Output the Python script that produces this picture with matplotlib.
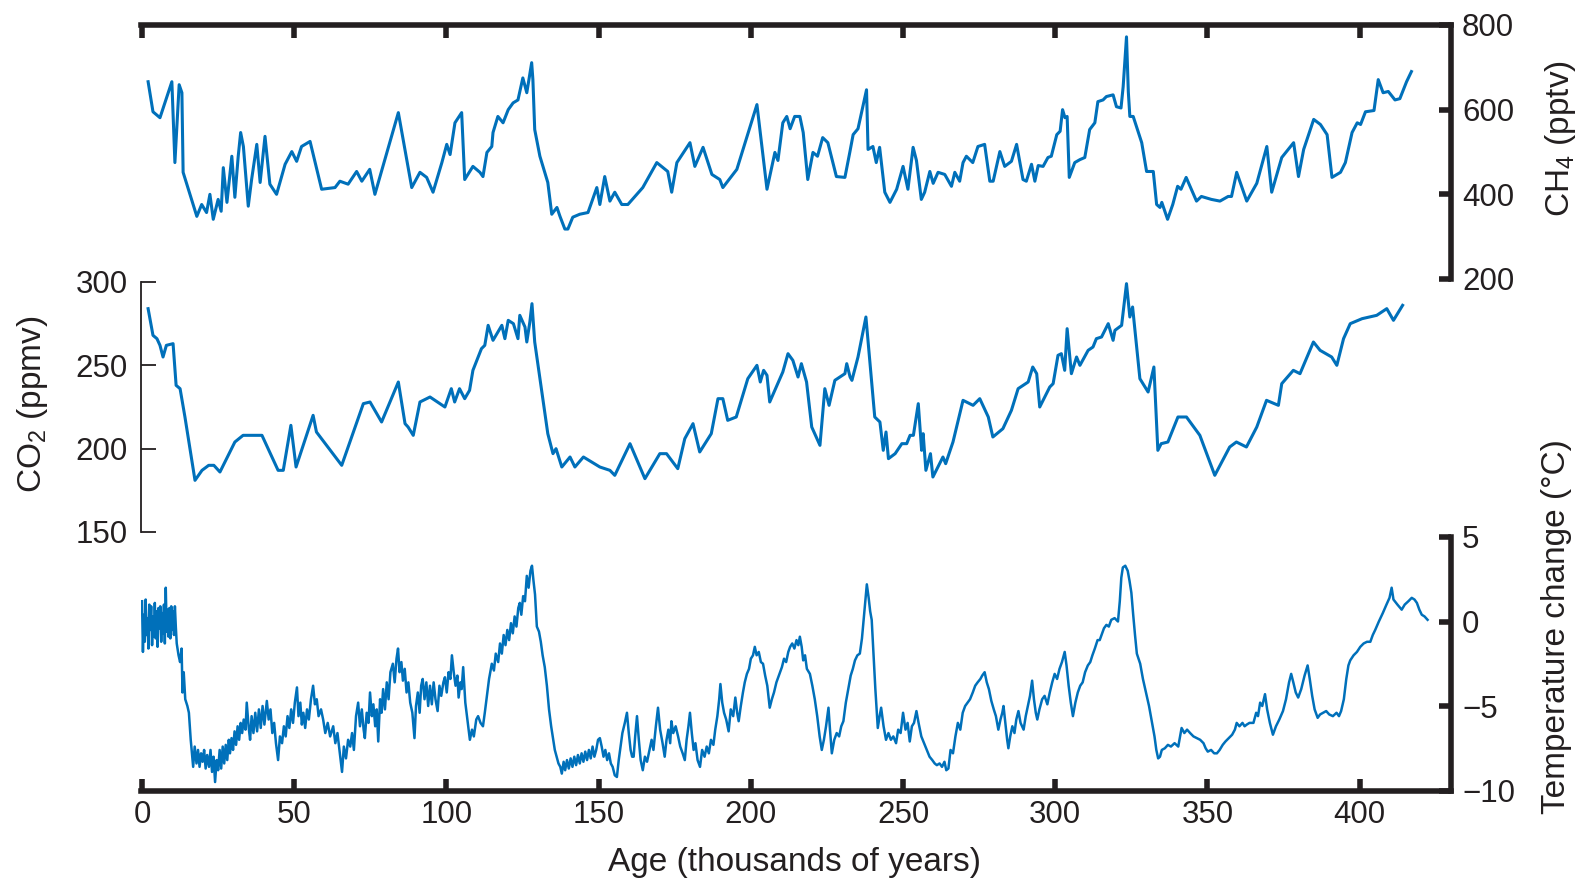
import matplotlib
matplotlib.use("Agg")
import matplotlib.pyplot as plt

plt.rcParams["font.family"] = ["Liberation Sans", "DejaVu Sans"]
plt.rcParams["mathtext.fontset"] = "custom"
plt.rcParams["mathtext.rm"] = "Liberation Sans"
plt.rcParams["mathtext.it"] = "Liberation Sans:italic"

# ---- data (age in thousands of years) ----
ch4_age = [2.0, 3.6, 5.9, 9.8, 10.8, 12.2, 13.1, 13.5, 18.0, 19.6, 21.2, 22.3, 23.4, 25.0, 26.0, 26.7,
           27.9, 29.5, 30.5, 31.6, 32.4, 33.3, 34.9, 36.0, 37.7, 38.8, 40.4, 42.0, 44.2, 47.0, 49.2,
           50.8, 52.4, 55.2, 59.0, 63.4, 65.0, 67.7, 70.5, 72.2, 74.8, 76.5, 84.2, 88.6, 91.3, 93.5,
           95.6, 98.5, 100.1, 101.2, 102.8, 105.0, 106.0, 108.7, 111.0, 112.0, 113.3, 114.9, 115.3,
           116.9, 118.6, 120.3, 121.9, 123.5, 125.1, 126.4, 128.0, 128.4, 129.0, 130.7, 133.3, 134.6,
           136.3, 137.3, 138.9, 139.9, 141.5, 143.8, 146.5, 149.4, 150.4, 152.0, 153.7, 155.3, 157.6,
           159.6, 164.5, 169.1, 172.7, 174.0, 175.7, 180.0, 181.6, 184.3, 187.2, 189.8, 190.8, 195.4,
           202.0, 205.3, 206.9, 207.9, 208.9, 210.5, 211.8, 212.9, 214.4, 216.1, 217.2, 218.7, 220.4,
           221.9, 223.6, 225.3, 228.1, 230.9, 232.5, 233.6, 235.2, 238.0, 238.5, 240.1, 241.2, 242.3,
           244.0, 245.7, 247.9, 250.0, 251.6, 253.3, 254.4, 256.0, 257.1, 258.8, 259.9, 261.5, 263.7,
           265.9, 267.0, 268.6, 269.7, 270.8, 272.9, 274.6, 276.8, 278.5, 279.6, 281.8, 283.4, 285.6,
           287.3, 289.4, 290.5, 292.2, 293.3, 294.4, 296.0, 297.6, 298.7, 300.5, 301.6, 302.4, 303.2,
           303.9, 304.6, 306.4, 308.1, 309.7, 311.3, 313.0, 314.0, 315.7, 316.8, 319.0, 320.1, 321.6,
           322.3, 323.4, 324.0, 324.5, 325.6, 328.4, 330.0, 332.2, 333.3, 334.4, 335.0, 336.9, 338.6,
           340.2, 341.3, 343.0, 346.4, 348.0, 351.3, 354.1, 356.8, 357.9, 359.6, 362.9, 366.2, 369.5,
           371.1, 374.4, 378.3, 379.9, 381.6, 384.9, 387.1, 389.3, 390.9, 393.7, 395.3, 397.5, 399.2,
           400.3, 401.9, 404.7, 406.1, 407.7, 409.4, 411.6, 413.2, 415.4, 417.0]
ch4 = [666, 595, 581, 666, 475, 659, 640, 452, 348, 376, 357, 400, 341, 388, 360, 463,
       381, 490, 393, 490, 546, 513, 372, 435, 518, 428, 537, 424, 400, 471, 501,
       478, 513, 525, 412, 416, 431, 424, 454, 431, 459, 400, 593, 416, 452, 440,
       405, 475, 518, 494, 569, 593, 435, 466, 452, 442, 499, 513, 546,
       584, 569, 600, 616, 623, 675, 640, 711, 671, 553, 490, 428, 353,
       369, 348, 318, 318, 346, 353, 357, 416, 376, 442, 384, 405, 376,
       376, 416, 475, 454, 405, 475, 522, 466, 511, 447, 435, 416, 459,
       612, 412, 466, 499, 480, 569, 584, 555, 584, 584, 546, 435, 499,
       490, 534, 522, 442, 440, 499, 541, 555, 647, 506, 513, 475, 511,
       405, 381, 412, 466, 412, 511, 480, 388, 405, 454, 426, 452, 447,
       419, 452, 431, 475, 490, 475, 513, 518, 431, 431, 501, 466, 478,
       518, 435, 431, 471, 431, 468, 466, 487, 490, 541, 549, 600, 581,
       584, 440, 475, 482, 487, 553, 569, 619, 623, 631, 635, 607, 604,
       654, 772, 642, 584, 584, 522, 454, 454, 376, 369, 381, 341, 376,
       419, 412, 440, 384, 395, 388, 384, 395, 395, 452, 384, 426, 513,
       405, 487, 522, 442, 506, 577, 565, 541, 440, 452, 475, 546, 569,
       565, 595, 598, 671, 640, 643, 623, 626, 666, 690]

co2_age = [2.0, 3.6, 4.9, 5.9, 6.9, 8.0, 10.2, 11.2, 12.5, 14.1, 17.4, 19.7, 21.9, 23.6, 25.6, 30.5,
           33.2, 39.4, 44.7, 46.4, 48.9, 50.6, 56.2, 57.3, 65.6, 72.7, 74.9, 78.7, 84.2, 86.4, 87.4,
           89.1, 91.3, 94.6, 99.5, 101.6, 102.7, 104.3, 106.0, 107.6, 108.7, 111.5, 112.6, 113.7,
           115.3, 118.2, 119.2, 120.3, 122.0, 123.5, 124.1, 125.8, 126.4, 127.4, 128.1, 129.0, 133.3,
           135.0, 136.0, 137.9, 140.6, 142.2, 145.0, 150.4, 153.7, 155.3, 160.3, 165.2, 170.1, 172.3,
           176.0, 178.3, 181.0, 183.2, 187.0, 189.2, 190.8, 192.4, 195.2, 199.0, 202.0, 203.1, 204.2,
           205.3, 206.2, 210.5, 212.2, 213.8, 215.5, 216.6, 218.3, 220.0, 222.7, 224.3, 225.7, 227.6,
           230.9, 231.5, 232.6, 233.2, 235.2, 237.8, 240.7, 242.4, 243.5, 244.4, 245.2, 247.4, 249.6,
           251.2, 252.3, 253.4, 255.0, 256.1, 256.6, 257.5, 259.0, 259.8, 262.0, 263.1, 264.0, 266.4,
           269.7, 273.0, 275.2, 278.0, 279.5, 282.8, 285.6, 287.8, 291.1, 292.6, 293.9, 294.9, 298.2,
           299.3, 300.9, 302.0, 303.1, 303.9, 305.3, 307.0, 308.1, 310.8, 312.4, 313.5, 315.2, 317.4,
           319.0, 319.6, 321.8, 323.4, 324.5, 325.4, 327.8, 330.5, 332.4, 333.7, 334.8, 337.0, 340.3,
           343.1, 347.5, 352.4, 357.3, 359.5, 362.8, 366.2, 369.4, 373.3, 374.4, 378.2, 380.4, 384.8,
           387.0, 390.8, 392.5, 394.7, 396.9, 400.8, 405.6, 408.9, 411.1, 414.1]
co2 = [284, 268, 266, 262, 255, 262, 263, 238, 236, 219, 181, 187, 190, 190, 186, 204,
       208, 208, 187, 187, 214, 189, 220, 210, 190, 227, 228, 216, 240, 215, 213,
       208, 228, 231, 225, 236, 228, 236, 230, 235, 247, 260, 262, 274,
       265, 274, 266, 277, 275, 266, 280, 273, 264, 276, 287, 264, 209,
       197, 200, 189, 195, 189, 195, 189, 187, 184, 203, 182, 197, 197,
       188, 206, 215, 198, 209, 230, 230, 217, 219, 242, 250, 240, 247,
       244, 228, 246, 257, 253, 243, 251, 240, 213, 202, 236, 226, 241,
       245, 251, 243, 241, 255, 279, 219, 216, 199, 210, 194, 197, 203,
       203, 208, 208, 227, 199, 209, 187, 197, 183, 191, 195, 191, 204,
       229, 226, 230, 219, 207, 212, 223, 236, 240, 249, 245, 225, 237,
       239, 256, 257, 247, 272, 245, 255, 250, 259, 261, 266, 267, 275,
       265, 271, 274, 299, 279, 285, 242, 234, 249, 199, 203, 204, 219,
       219, 208, 184, 201, 204, 201, 213, 229, 226, 239, 247, 245, 264,
       259, 255, 250, 266, 275, 278, 280, 284, 277, 286]

temp_age = [0.0, 0.3, 0.6, 0.9, 1.2, 1.5, 1.8, 2.1, 2.4, 2.7, 3.0, 3.3, 3.6, 3.9, 4.2, 4.5, 4.8, 5.1,
            5.4, 5.7, 6.0, 6.3, 6.6, 6.9, 7.2, 7.5, 7.8, 8.1, 8.4, 8.7, 9.0, 9.3, 9.6, 9.9, 10.2, 10.5,
            10.8, 11.1, 11.4, 12.0, 12.5, 13.0, 13.3, 13.7, 14.2, 14.9, 15.4, 16.0, 16.8, 17.3, 17.9,
            18.4, 18.9, 19.4, 19.9, 20.4, 20.9, 21.4, 22.0, 22.5, 23.0, 23.5, 24.0, 24.5, 25.0, 25.5,
            26.0, 26.5, 27.0, 27.5, 28.0, 28.5, 28.9, 29.4, 29.9, 30.4, 30.9, 31.4, 31.9, 32.4, 32.9,
            33.4, 34.0, 34.4, 35.0, 35.5, 36.0, 36.6, 37.2, 37.8, 38.4, 39.0, 39.6, 40.2, 41.0, 41.6,
            42.2, 42.8, 43.4, 44.0, 44.7, 45.3, 46.0, 46.6, 47.2, 47.8, 48.4, 49.0, 49.6, 50.2, 50.9,
            51.4, 52.0, 52.5, 53.0, 53.6, 54.2, 54.8, 55.5, 56.2, 56.8, 57.4, 58.0, 58.8, 59.5, 60.2,
            61.0, 61.8, 62.8, 63.5, 64.2, 65.0, 65.7, 66.3, 67.0, 67.7, 68.4, 69.0, 69.6, 70.3, 71.0,
            71.6, 72.2, 72.8, 73.2, 73.8, 74.4, 74.9, 75.5, 76.0, 76.6, 77.1, 77.6, 78.2, 78.7, 79.2,
            79.8, 80.4, 81.0, 81.6, 82.4, 83.0, 83.6, 84.1, 84.6, 85.2, 85.7, 86.3, 86.9, 87.5, 88.1,
            88.8, 89.5, 90.0, 90.6, 91.2, 91.7, 92.2, 92.8, 93.4, 94.0, 94.6, 95.2, 95.8, 96.4, 97.1,
            97.7, 98.3, 99.0, 99.5, 100.1, 100.7, 101.3, 101.8, 102.4, 103.0, 103.6, 104.0, 104.6,
            105.0, 105.5, 106.2, 107.0, 107.7, 108.4, 109.0, 109.8, 110.4, 111.2, 112.0, 112.6, 113.3,
            114.0, 114.9, 115.6, 116.2, 117.0, 117.6, 118.2, 118.8, 119.4, 120.0, 120.6, 121.2, 121.8,
            122.4, 123.0, 123.6, 124.1, 124.6, 125.2, 125.8, 126.4, 127.0, 127.6, 128.1, 128.6, 129.1,
            129.7, 130.4, 131.0, 131.6, 132.3, 133.0, 133.7, 134.4, 135.0, 135.6, 136.2, 136.8, 137.4,
            137.9, 138.5, 139.0, 139.6, 140.2, 140.8, 141.4, 142.0, 142.6, 143.2, 143.8, 144.4, 145.0,
            145.6, 146.2, 146.8, 147.4, 148.0, 148.6, 149.2, 149.8, 150.4, 151.0, 151.6, 152.2, 152.8,
            153.4, 154.0, 154.6, 155.3, 156.0, 156.6, 157.2, 157.8, 158.6, 159.3, 159.9, 160.5, 161.0,
            161.5, 162.0, 162.6, 163.2, 163.8, 164.5, 165.2, 165.9, 166.7, 167.4, 168.0, 168.8, 169.5,
            170.2, 171.0, 171.7, 172.3, 172.9, 173.5, 173.9, 174.5, 175.3, 176.1, 176.8, 177.6, 178.3,
            178.9, 179.5, 180.0, 180.6, 181.2, 181.8, 182.5, 183.3, 184.0, 184.8, 185.5, 186.2, 186.9,
            187.7, 188.3, 189.0, 189.6, 190.0, 190.6, 191.2, 191.9, 192.7, 193.4, 194.2, 194.9, 195.5,
            196.0, 196.7, 197.4, 198.0, 198.7, 199.4, 200.0, 200.7, 201.3, 201.9, 202.6, 203.3, 204.0,
            204.7, 205.4, 206.2, 206.9, 207.6, 208.4, 209.2, 210.2, 210.9, 211.6, 212.3, 212.9, 213.6,
            214.3, 215.0, 215.6, 216.1, 216.7, 217.2, 217.8, 218.4, 219.4, 220.2, 221.0, 221.8, 222.6,
            223.3, 224.0, 224.7, 225.5, 226.0, 226.6, 227.4, 228.2, 229.0, 229.7, 230.4, 231.2, 232.0,
            232.8, 233.5, 234.2, 235.0, 235.8, 236.5, 237.3, 238.1, 238.7, 239.2, 239.7, 240.3, 240.9,
            241.7, 242.3, 242.8, 243.6, 244.4, 245.2, 246.0, 246.8, 247.7, 248.4, 249.2, 250.0, 250.8,
            251.5, 252.2, 252.9, 253.6, 254.4, 255.1, 256.0, 256.9, 257.8, 258.7, 259.6, 260.4, 261.1,
            262.0, 262.8, 263.6, 264.2, 264.9, 265.6, 266.4, 267.2, 268.0, 268.8, 269.6, 270.4, 271.2,
            272.0, 272.9, 273.7, 274.5, 275.4, 276.0, 276.8, 277.5, 278.2, 279.0, 279.8, 280.5, 281.3,
            282.0, 282.6, 283.0, 283.6, 284.2, 284.6, 285.2, 285.9, 286.6, 287.2, 287.9, 288.6, 289.6,
            290.3, 291.0, 291.7, 292.4, 293.0, 293.6, 294.1, 294.8, 295.7, 296.5, 297.4, 298.2, 299.0,
            299.8, 300.6, 301.4, 302.2, 303.1, 303.7, 304.4, 305.1, 305.8, 306.6, 307.4, 308.2, 309.0,
            309.8, 310.7, 311.5, 312.2, 313.0, 313.9, 314.6, 315.2, 316.0, 316.8, 317.6, 318.4, 319.5,
            320.6, 321.2, 321.7, 322.2, 323.0, 323.8, 324.4, 325.0, 325.6, 326.2, 326.8, 327.9, 328.8,
            329.8, 330.8, 331.7, 332.6, 333.2, 333.8, 334.4, 335.0, 336.0, 337.0, 338.0, 339.2, 340.4,
            341.0, 341.5, 342.4, 343.3, 344.3, 345.4, 346.5, 347.6, 348.7, 349.4, 350.1, 351.2, 352.2,
            353.1, 354.0, 355.0, 355.9, 357.0, 358.1, 359.0, 359.6, 360.5, 361.5, 362.2, 362.9, 363.8,
            365.1, 366.0, 366.6, 367.3, 368.0, 368.9, 369.6, 370.5, 371.5, 372.5, 373.6, 374.8, 375.8,
            376.8, 377.5, 378.2, 379.0, 379.8, 380.8, 381.9, 382.9, 383.6, 384.4, 385.2, 386.2, 387.0,
            388.0, 389.0, 390.0, 391.2, 392.4, 393.2, 393.9, 394.8, 395.6, 396.3, 396.9, 398.0, 399.1,
            400.2, 401.3, 402.4, 403.5, 404.3, 405.1, 406.3, 407.6, 408.8, 409.8, 410.5, 411.1, 412.4,
            413.8, 414.8, 416.0, 417.1, 418.0, 418.8, 419.6, 420.4, 421.3, 422.3]
temp = [1.2, -1.8, 0.4, -1.2, 1.3, -0.8, 0.2, -1.6, 1.0, -0.5, 0.9, -1.4, 0.3, -0.9, 1.1, -1.0, 0.6, -1.5,
        0.8, -0.4, 0.9, -1.2, 0.5, -0.7, 1.0, -1.3, 2.0, -0.6, 0.7, -0.9, 0.8, -1.0, 0.9, -0.5, 0.6, -0.8,
        0.9, -0.3, -1.3, -2.0, -2.4, -1.6, -4.2, -3.0, -4.6, -5.0, -5.4, -7.0, -8.6, -7.4, -8.4,
        -7.6, -8.6, -7.8, -8.3, -7.6, -8.7, -7.9, -8.6, -7.6, -8.9, -8.0, -9.5, -8.2, -8.8, -7.6,
        -8.7, -7.4, -8.4, -7.3, -8.2, -7.0, -7.8, -6.9, -7.6, -6.5, -7.3, -6.2, -7.0, -6.0, -6.6,
        -5.8, -6.4, -4.8, -6.2, -7.0, -5.6, -6.6, -5.4, -6.5, -5.2, -6.3, -5.0, -6.1, -4.7, -5.8,
        -5.2, -6.6, -6.0, -7.2, -8.2, -6.8, -7.2, -6.2, -6.8, -5.6, -6.3, -5.2, -6.0, -4.8, -3.9,
        -5.6, -4.8, -6.1, -5.4, -6.3, -5.2, -5.8, -4.6, -3.8, -4.9, -4.6, -5.6, -5.2, -5.8, -6.6,
        -6.0, -6.8, -6.2, -7.2, -6.6, -7.8, -8.9, -7.4, -8.1, -7.0, -7.4, -6.6, -7.6, -5.6, -4.8,
        -6.2, -5.2, -6.4, -6.9, -5.4, -6.0, -4.2, -5.6, -4.9, -6.2, -5.2, -7.1, -4.6, -5.4, -4.0,
        -5.2, -3.6, -4.6, -3.0, -2.5, -3.6, -2.2, -1.6, -3.0, -2.4, -3.5, -2.8, -4.2, -3.6, -4.8,
        -5.4, -6.9, -5.0, -4.2, -5.4, -3.8, -3.4, -4.6, -3.6, -5.0, -3.8, -4.9, -3.6, -4.6, -5.3,
        -3.8, -4.4, -3.6, -3.3, -4.2, -3.0, -3.4, -2.0, -3.0, -3.8, -3.2, -4.5, -3.6,
        -4.0, -2.7, -4.8, -6.0, -7.0, -6.4, -6.8, -5.8, -5.6, -6.0, -6.2, -5.4, -4.4,
        -3.4, -2.5, -2.9, -1.9, -2.4, -1.3, -1.9, -0.8, -1.4, -0.5, -1.1, -0.1, -0.7,
        0.3, -0.3, 0.8, 1.1, 0.4, 1.5, 1.2, 2.7, 2.0, 3.0, 3.3, 2.4, 1.6,
        -0.3, -0.6, -1.2, -2.0, -2.7, -3.8, -5.2, -6.2, -6.9, -7.6, -8.0, -8.4, -8.6,
        -9.0, -8.3, -8.8, -8.2, -8.7, -8.1, -8.6, -8.0, -8.5, -7.9, -8.4, -7.8, -8.3,
        -7.7, -8.2, -7.6, -8.1, -7.4, -8.0, -7.6, -7.0, -6.9, -7.4, -8.0, -7.6, -8.2,
        -7.8, -8.4, -8.6, -9.1, -9.2, -8.2, -7.4, -6.6, -6.0, -5.4, -6.6, -7.6, -8.0,
        -8.0, -6.8, -5.6, -7.0, -8.2, -8.8, -8.0, -8.3, -7.6, -7.0, -7.6, -6.2, -5.1,
        -6.4, -7.2, -8.0, -7.0, -6.4, -7.2, -5.9, -6.6, -6.2, -6.8, -7.4, -7.8, -8.2,
        -7.0, -6.2, -5.4, -6.6, -7.6, -7.2, -8.2, -8.6, -7.6, -8.0, -7.4, -7.8, -7.0,
        -7.3, -6.4, -5.6, -4.6, -3.7, -4.8, -5.4, -5.8, -6.5, -5.2, -5.6, -4.5, -5.4,
        -5.9, -5.0, -4.2, -3.6, -3.1, -2.8, -2.2, -2.0, -1.5, -2.0, -1.8, -2.4, -2.5,
        -3.2, -3.8, -5.1, -4.6, -4.2, -3.6, -3.2, -2.7, -2.2, -2.4, -1.8, -1.5, -1.3,
        -1.6, -1.1, -1.4, -0.9, -1.5, -2.3, -2.0, -2.8, -3.1, -3.8, -4.6, -5.6, -6.8,
        -7.6, -7.0, -6.2, -5.1, -6.4, -7.8, -7.0, -6.6, -6.8, -6.2, -5.9, -4.8, -4.0,
        -3.2, -2.8, -2.3, -2.0, -1.9, -1.0, 0.6, 2.2, 1.4, 0.6, 0.1, -2.0, -4.0,
        -6.3, -5.6, -5.1, -6.2, -7.0, -6.6, -7.0, -6.8, -7.2, -6.4, -6.6, -5.4, -6.4,
        -6.0, -7.1, -6.2, -6.0, -5.3, -6.0, -6.8, -7.2, -7.6, -8.0, -8.2, -8.4, -8.5,
        -8.4, -8.6, -8.3, -8.8, -8.7, -7.6, -7.8, -6.8, -6.0, -6.4, -5.4, -5.0, -4.8,
        -4.6, -4.2, -3.8, -3.6, -3.4, -3.2, -3.0, -3.6, -4.0, -4.7, -5.2, -5.6, -6.4,
        -5.8, -5.4, -5.0, -6.0, -7.0, -7.5, -6.8, -6.2, -6.6, -5.8, -5.3, -6.0, -6.4,
        -5.6, -5.0, -4.4, -3.5, -4.6, -5.4, -5.8, -5.2, -4.6, -4.4, -4.9, -4.2, -3.6,
        -3.1, -3.4, -2.8, -2.4, -1.8, -2.6, -3.8, -4.8, -5.6, -4.8, -4.2, -3.8, -3.6,
        -3.0, -2.6, -2.4, -2.0, -1.6, -1.1, -1.1, -0.8, -0.4, -0.2, -0.3, 0.1, 0.2,
        0.0, 1.2, 2.6, 3.2, 3.3, 3.0, 2.4, 1.7, 0.4, -0.8, -1.9, -2.5, -3.4,
        -4.2, -5.0, -5.9, -6.8, -7.6, -8.1, -8.0, -7.6, -7.5, -7.3, -7.4, -7.2, -7.4,
        -6.8, -6.3, -6.6, -6.4, -6.6, -6.8, -6.9, -7.0, -7.2, -7.5, -7.7, -7.6, -7.8,
        -7.8, -7.6, -7.3, -7.1, -6.9, -6.7, -6.4, -6.0, -6.2, -6.0, -6.2, -6.1, -6.0,
        -6.0, -5.4, -5.6, -4.8, -5.0, -4.3, -5.2, -6.0, -6.7, -6.2, -5.8, -5.3, -4.6,
        -3.6, -3.1, -3.6, -4.2, -4.5, -4.0, -3.2, -2.6, -3.4, -4.4, -5.2, -5.7, -5.5,
        -5.4, -5.3, -5.5, -5.6, -5.4, -5.6, -5.3, -4.6, -3.4, -2.6, -2.3, -2.0, -1.8,
        -1.5, -1.3, -1.2, -1.2, -0.8, -0.5, 0.0, 0.5, 1.0, 1.4, 2.0, 1.3, 1.0,
        0.7, 1.0, 1.2, 1.4, 1.3, 1.1, 0.7, 0.4, 0.3, 0.1]

# ---- layout in figure pixels ----
W, H = 1580, 882
LEFT, RIGHT = 140.5, 1451
INK = "#231F20"
BLUE = "#0070BA"


def frame(top, bottom):
    return [LEFT / W, 1 - bottom / H, (RIGHT - LEFT) / W, (bottom - top) / H]


fig = plt.figure(figsize=(W / 100, H / 100), dpi=100)

ax_ch4 = fig.add_axes(frame(25, 279))
ax_co2 = fig.add_axes(frame(282, 532))
ax_t = fig.add_axes(frame(537, 790.5))

for ax in (ax_ch4, ax_co2, ax_t):
    ax.set_facecolor("none")
    ax.set_xlim(-0.5, 430)
    ax.set_xticks(range(0, 401, 50))
    for s in ax.spines.values():
        s.set_visible(False)
        s.set_color(INK)

thick = 4
tick_kw = dict(direction="in", width=thick, length=9, colors=INK, labelcolor=INK, labelsize=22.5)

# CH4 panel: top and right axes
ax_ch4.plot(ch4_age, ch4, color=BLUE, lw=2.2)
ax_ch4.set_ylim(200, 800)
ax_ch4.set_yticks([200, 400, 600, 800])
ax_ch4.spines["top"].set_visible(True)
ax_ch4.spines["right"].set_visible(True)
ax_ch4.spines["top"].set_linewidth(thick)
ax_ch4.spines["right"].set_linewidth(thick)
ax_ch4.xaxis.set_ticks_position("top")
ax_ch4.tick_params(axis="x", labeltop=False, labelbottom=False, **tick_kw)
ax_ch4.yaxis.set_ticks_position("right")
ax_ch4.tick_params(axis="y", pad=8, **tick_kw)

# CO2 panel: thin left axis
ax_co2.plot(co2_age, co2, color=BLUE, lw=2.2)
ax_co2.set_ylim(150, 300)
ax_co2.set_yticks([150, 200, 250, 300])
ax_co2.spines["left"].set_visible(True)
ax_co2.spines["left"].set_linewidth(1.3)
ax_co2.set_xticks([])
ax_co2.tick_params(axis="y", direction="in", width=1.3, length=11, colors=INK,
                   labelcolor=INK, labelsize=22.5, pad=9)

# Temperature panel: bottom and right axes
ax_t.plot(temp_age, temp, color=BLUE, lw=1.8)
ax_t.set_ylim(-10, 5)
ax_t.set_yticks([-10, -5, 0, 5])
ax_t.spines["bottom"].set_visible(True)
ax_t.spines["right"].set_visible(True)
ax_t.spines["bottom"].set_linewidth(thick)
ax_t.spines["right"].set_linewidth(thick)
ax_t.xaxis.set_ticks_position("bottom")
ax_t.tick_params(axis="x", pad=7, **tick_kw)
ax_t.yaxis.set_ticks_position("right")
ax_t.tick_params(axis="y", pad=8, **tick_kw)

# axis titles
lab = dict(fontsize=24, color=INK, ha="center", va="center")
fig.text(794 / W, 1 - 862 / H, "Age (thousands of years)", **lab)
fig.text(33 / W, 1 - 404 / H, "CO$_2$ (ppmv)", rotation=90, **lab)
fig.text(1560 / W, 1 - 138 / H, "CH$_4$ (pptv)", rotation=90, **lab)
fig.text(1557 / W, 1 - 627 / H, "Temperature change (°C)", rotation=90, **lab)

fig.savefig("out.png", dpi=100)
